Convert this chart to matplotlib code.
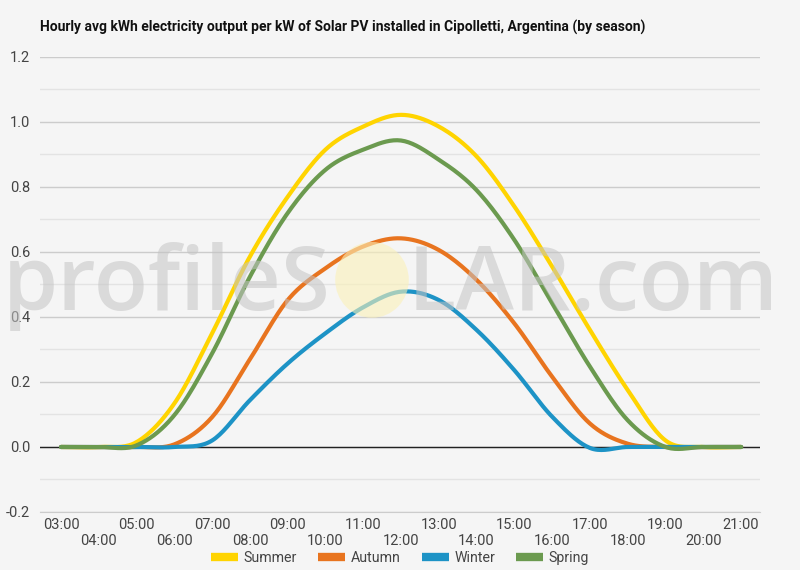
import numpy as np
import matplotlib
matplotlib.use("Agg")
import matplotlib.pyplot as plt
from matplotlib.patches import Ellipse

hours = list(range(3, 22))
hour_labels = [f"{h:02d}:00" for h in hours]

summer = [0, 0, 0.015, 0.134, 0.35, 0.586, 0.77, 0.915, 0.986, 1.022,
          0.986, 0.894, 0.74, 0.555, 0.36, 0.175, 0.02, 0, 0]
autumn = [0, 0, 0, 0.008, 0.092, 0.27, 0.452, 0.55, 0.617, 0.642,
          0.606, 0.514, 0.38, 0.216, 0.072, 0.01, 0, 0, 0]
winter = [0, 0, 0, 0, 0.02, 0.144, 0.257, 0.35, 0.43, 0.478,
          0.452, 0.36, 0.236, 0.093, -0.003, 0, 0, 0, 0]
spring = [0, 0, 0.005, 0.098, 0.288, 0.524, 0.72, 0.853, 0.915, 0.943,
          0.884, 0.79, 0.637, 0.442, 0.247, 0.082, 0, 0, 0]

series = ["Summer", "Autumn", "Winter", "Spring"]
colors = ["#ffd400", "#e8741f", "#1d93c6", "#6b9a4f"]

plt.rcParams["font.family"] = ["Roboto", "DejaVu Sans"]


def catmull(x, y, n=20):
    # smooth line through the hourly points
    x = np.asarray(x, float)
    y = np.asarray(y, float)
    px = np.concatenate([[2 * x[0] - x[1]], x, [2 * x[-1] - x[-2]]])
    py = np.concatenate([[y[0]], y, [y[-1]]])
    xs, ys = [], []
    t = np.linspace(0, 1, n, endpoint=False)
    for i in range(1, len(px) - 2):
        for arr, out in ((px, xs), (py, ys)):
            p0, p1, p2, p3 = arr[i - 1], arr[i], arr[i + 1], arr[i + 2]
            out.append(0.5 * (2 * p1 + (-p0 + p2) * t + (2 * p0 - 5 * p1 + 4 * p2 - p3) * t ** 2
                              + (-p0 + 3 * p1 - 3 * p2 + p3) * t ** 3))
    xs.append([x[-1]])
    ys.append([y[-1]])
    return np.concatenate(xs), np.concatenate(ys)


bg = "#f5f5f5"
fig = plt.figure(figsize=(8, 5.7), dpi=100, facecolor=bg)
ax = fig.add_axes([0.05, 0.1018, 0.9, 0.7982])
ax.set_facecolor(bg)

ax.set_xlim(2.444, 21.5)
ax.set_ylim(-0.2, 1.2)
ax.set_yticks(np.arange(-0.2, 1.21, 0.2))
ax.set_yticks(np.arange(-0.1, 1.2, 0.2), minor=True)
ax.set_yticklabels([f"{v:.1f}" for v in np.arange(-0.2, 1.21, 0.2)])
ax.grid(axis="y", which="major", color="#cccccc", lw=1)
ax.grid(axis="y", which="minor", color="#e3e3e3", lw=1)
ax.set_axisbelow(True)
for s in ["top", "right", "left"]:
    ax.spines[s].set_visible(False)
ax.spines["bottom"].set_color("#cccccc")
ax.axhline(0, color="#222222", lw=1, zorder=1)

ax.set_xticks(hours)
ax.set_xticklabels([lab if i % 2 == 0 else "\n" + lab for i, lab in enumerate(hour_labels)])
ax.tick_params(axis="x", length=0, pad=4, labelsize=10.5, labelcolor="#444444")
ax.tick_params(axis="y", which="both", length=0, pad=7, labelsize=10.5, labelcolor="#444444")

for name, vals, c in zip(series, [summer, autumn, winter, spring], colors):
    sx, sy = catmull(hours, vals)
    ax.plot(sx, sy, color=c, lw=3, label=name, solid_capstyle="round", zorder=3)

# watermark
wm = dict(fontsize=64, color="#c4c4c4", alpha=0.55, fontweight="semibold",
          family=["Open Sans", "DejaVu Sans"], va="baseline", ha="left", zorder=10)
fig.text(0.004, 0.456, "profileS", **wm)
fig.text(0.51, 0.456, "LAR.com", **wm)
fig.patches.append(Ellipse((0.465, 0.509), 0.092, 0.133, transform=fig.transFigure,
                           facecolor="#fbf1b8", alpha=0.6, edgecolor="none", zorder=10))

fig.text(0.05, 0.951, "Hourly avg kWh electricity output per kW of Solar PV installed in Cipolletti, Argentina (by season)",
         fontsize=10, fontweight="bold", color="#111111", va="center", ha="left")

leg = ax.legend(loc="center", bbox_to_anchor=(0.5, 0.021), bbox_transform=fig.transFigure,
                ncol=4, frameon=False, fontsize=10.2, handlelength=1.9, handletextpad=0.4,
                columnspacing=1.5, labelcolor="#444444")
for h in leg.get_lines():
    h.set_linewidth(6)
    h.set_solid_capstyle("butt")

fig.savefig("out.png", dpi=100, facecolor=bg)
